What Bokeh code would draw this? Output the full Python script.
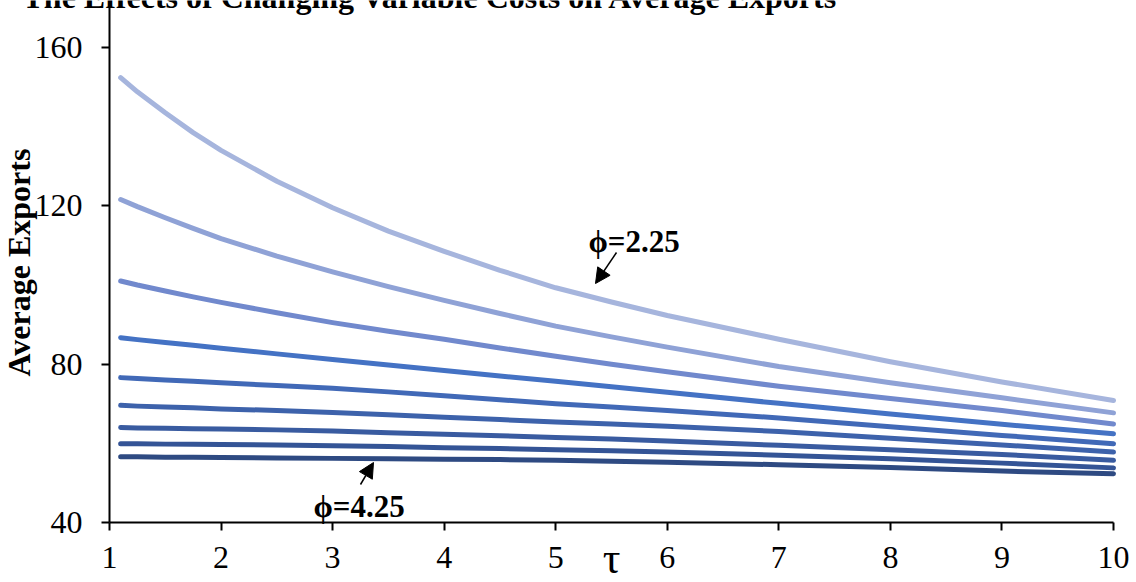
import math
from bokeh.plotting import figure
from bokeh.models import Label, Arrow, NormalHead, FixedTicker, Range1d
from bokeh.embed import file_html
from bokeh.resources import INLINE

# variable trade cost tau (x) and average exports for each shape parameter phi
tau = [1.1, 1.25, 1.5, 1.75, 2, 2.5, 3, 3.5, 4, 4.5, 5, 5.5, 6, 7, 8, 9, 10]
phi = [2.25, 2.5, 2.75, 3.0, 3.25, 3.5, 3.75, 4.0, 4.25]

exports_phi_2_25 = [152.4, 148.8, 143.5, 138.5, 134.0, 126.2, 119.5, 113.6, 108.5, 103.7, 99.3, 95.7, 92.3, 86.3, 80.6, 75.5, 70.8]
exports_phi_2_50 = [121.6, 119.8, 117.0, 114.3, 111.7, 107.3, 103.3, 99.6, 96.1, 92.8, 89.6, 86.9, 84.3, 79.4, 75.3, 71.5, 67.7]
exports_phi_2_75 = [101.0, 100.0, 98.5, 97.0, 95.6, 93.0, 90.5, 88.3, 86.3, 84.1, 82.0, 80.0, 78.1, 74.4, 71.3, 68.3, 64.9]
exports_phi_3_00 = [86.7, 86.2, 85.5, 84.8, 84.0, 82.6, 81.2, 79.8, 78.4, 77.0, 75.7, 74.3, 72.9, 70.1, 67.4, 64.8, 62.4]
exports_phi_3_25 = [76.6, 76.4, 76.0, 75.7, 75.3, 74.6, 73.9, 73.0, 72.0, 71.0, 70.0, 69.2, 68.3, 66.4, 64.2, 62.0, 59.9]
exports_phi_3_50 = [69.6, 69.4, 69.2, 69.0, 68.7, 68.3, 67.8, 67.2, 66.6, 66.0, 65.4, 64.9, 64.3, 63.0, 61.3, 59.6, 57.8]
exports_phi_3_75 = [64.0, 63.9, 63.8, 63.7, 63.6, 63.4, 63.1, 62.7, 62.3, 61.9, 61.5, 61.1, 60.6, 59.5, 58.4, 57.2, 55.7]
exports_phi_4_00 = [59.9, 59.9, 59.8, 59.8, 59.7, 59.6, 59.4, 59.2, 58.9, 58.7, 58.4, 58.1, 57.8, 57.0, 56.1, 55.0, 53.8]
exports_phi_4_25 = [56.6, 56.6, 56.5, 56.5, 56.4, 56.3, 56.2, 56.1, 56.0, 55.9, 55.7, 55.5, 55.2, 54.6, 53.9, 53.0, 52.3]

series = [exports_phi_2_25, exports_phi_2_50, exports_phi_2_75, exports_phi_3_00,
          exports_phi_3_25, exports_phi_3_50, exports_phi_3_75, exports_phi_4_00,
          exports_phi_4_25]

x_ticks = [1, 2, 3, 4, 5, 6, 7, 8, 9, 10]
y_ticks = [40, 80, 120, 160]

colors = ["#A6B5DD", "#8FA2D6", "#7189CD", "#4472C4", "#4169B7",
          "#3D62AB", "#395BA0", "#345496", "#2E4A82"]

SERIF = "Liberation Serif"

# pixel geometry of the plotting area inside the 1136x582 canvas
W, H = 1136, 582
LEFT, RIGHT, TOP, BOTTOM = 109, 1113, 7, 522
X0, X1 = 1, 10
Y0 = 40
PX_PER_X = (RIGHT - LEFT) / (X1 - X0)
PX_PER_Y = (BOTTOM - 47) / 120.0


def dx(px):
    return X0 + (px - LEFT) / PX_PER_X


def dy(py):
    return Y0 + (BOTTOM - py) / PX_PER_Y


# the frame covers the whole canvas; the axes are pinned at x=1 and y=40
p = figure(width=W, height=H,
           x_range=Range1d(dx(0), dx(W)), y_range=Range1d(dy(H), dy(0)),
           output_backend="svg", toolbar_location=None,
           min_border_left=0, min_border_right=0,
           min_border_top=0, min_border_bottom=0)
p.outline_line_color = None
p.xgrid.grid_line_color = None
p.ygrid.grid_line_color = None
p.background_fill_color = "white"
p.border_fill_color = "white"

for vals, c in zip(series, colors):
    p.line(tau, vals, line_color=c, line_width=5, line_cap="round", line_join="round")

p.xaxis.ticker = FixedTicker(ticks=x_ticks)
p.yaxis.ticker = FixedTicker(ticks=y_ticks)
p.xaxis.fixed_location = Y0
p.yaxis.fixed_location = X0
p.xaxis.bounds = (X0, X1)
p.yaxis.bounds = (Y0, dy(TOP))
for ax in (p.xaxis[0], p.yaxis[0]):
    ax.axis_line_color = "black"
    ax.axis_line_width = 2
    ax.major_tick_line_color = "black"
    ax.major_tick_line_width = 2
    ax.major_tick_out = 8
    ax.major_tick_in = 0
    ax.minor_tick_line_color = None
    ax.major_label_text_font = SERIF
    ax.major_label_text_font_size = "32px"
    ax.major_label_text_color = "black"
p.yaxis.major_label_standoff = 19
p.xaxis.major_label_standoff = 16

p.add_layout(Label(x=dx(22), y=dy(-4), text="The Effects of Changing Variable Costs on Average Exports",
                   text_font=SERIF, text_font_style="bold", text_font_size="32px",
                   text_color="black", text_baseline="alphabetic"))
p.add_layout(Label(x=dx(18), y=dy(262), text="Average Exports", angle=math.pi / 2,
                   text_font=SERIF, text_font_style="bold", text_font_size="32px",
                   text_color="black", text_align="center", text_baseline="middle"))
p.add_layout(Label(x=dx(611), y=dy(558), text="\u03c4",
                   text_font=SERIF, text_font_size="44px", text_color="black",
                   text_align="center", text_baseline="alphabetic"))

# annotations for the first and last phi curves
p.add_layout(Label(x=dx(588), y=dy(241), text="\u03d5=%.2f" % phi[0],
                   text_font=SERIF, text_font_style="bold", text_font_size="31px",
                   text_color="black", text_baseline="alphabetic"))
p.add_layout(Arrow(end=NormalHead(size=15, fill_color="black", line_color="black"),
                   x_start=dx(616), y_start=dy(252), x_end=dx(595), y_end=dy(283),
                   line_color="black", line_width=1.5))
p.add_layout(Label(x=dx(313), y=dy(506), text="\u03d5=%.2f" % phi[-1],
                   text_font=SERIF, text_font_style="bold", text_font_size="31px",
                   text_color="black", text_baseline="alphabetic"))
p.add_layout(Arrow(end=NormalHead(size=15, fill_color="black", line_color="black"),
                   x_start=dx(360), y_start=dy(484), x_end=dx(373), y_end=dy(462),
                   line_color="black", line_width=1.5))

open("out.html", "w").write(file_html(p, INLINE))
